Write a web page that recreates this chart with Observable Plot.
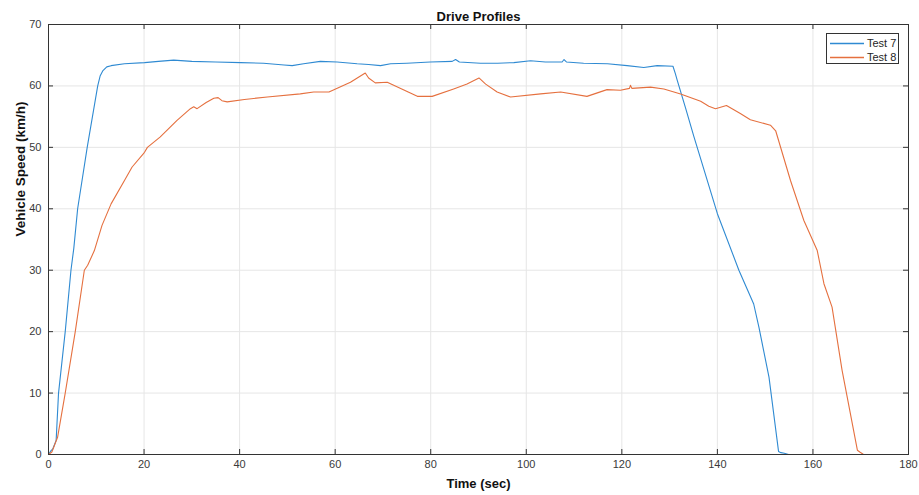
<!DOCTYPE html>
<html>
<head>
<meta charset="utf-8">
<script src="https://cdn.jsdelivr.net/npm/d3@7"></script>
<script src="https://cdn.jsdelivr.net/npm/@observablehq/plot@0.6"></script>
<style>
  html, body { margin: 0; padding: 0; background: #fff; }
  #wrap { position: relative; width: 919px; height: 495px; font-family: "Liberation Sans", Arial, sans-serif; }
  #legend { position: absolute; left: 826px; top: 33px; width: 73px; height: 31px; border: 1px solid #333; background: #fff; font-size: 11px; color: #262626; box-sizing: border-box; }
  .row { position: absolute; left: 0; height: 14px; width: 72px; }
  .row svg { position: absolute; left: 2px; top: 0; }
  .row .lb { position: absolute; left: 40px; top: 0; line-height: 14px; }
</style>
</head>
<body>
<div id="wrap"></div>
<script>
// ---- data ----
const seriesNames = ["Test 7", "Test 8"];
const seriesColors = ["#2f8ad2", "#e5703f"];

const t7 = [0, 0.4, 0.9, 1.6, 2.1, 3.5, 4.7, 5.3, 6.1, 8.1, 10.3, 10.8, 11.4, 12.2, 13.1, 15.9, 20.1, 23, 26.2, 30, 35, 40.2, 45, 49.3, 51, 53.4, 56.9, 60.4, 64.6, 67, 69.5, 71.6, 75, 79.9, 84.5, 85.2, 86, 90.4, 94, 97.4, 100.9, 104, 107.5, 107.9, 108.4, 112, 117, 121.1, 124.6, 127.4, 130.7, 131.2, 131.6, 133.3, 135.1, 140, 144.5, 147.6, 148.7, 150.8, 152.8, 153.3, 154, 154.9];
const v7 = [0, 0.5, 0.9, 2.3, 10, 20, 30, 33.6, 40, 50, 60, 61.6, 62.5, 63.1, 63.3, 63.6, 63.8, 64.0, 64.2, 64.0, 63.9, 63.8, 63.7, 63.4, 63.3, 63.6, 64.0, 63.9, 63.6, 63.5, 63.3, 63.6, 63.7, 63.9, 64.0, 64.3, 63.9, 63.7, 63.7, 63.8, 64.1, 63.9, 63.9, 64.3, 63.9, 63.7, 63.6, 63.3, 63.0, 63.3, 63.2, 62.0, 60.9, 56.5, 51.7, 39.2, 30.0, 24.5, 20.7, 12.6, 0.5, 0.3, 0.2, 0];

const t8 = [0, 0.7, 1.9, 3.5, 5.6, 7.5, 8.2, 9.6, 11.2, 13.1, 15.9, 17.5, 20.1, 20.7, 23.4, 26.9, 29.7, 30.4, 31.1, 33, 34.6, 35.5, 36.3, 37.4, 41, 45.8, 52.7, 55.5, 58.7, 63.2, 66.3, 67, 68.4, 70.9, 77.2, 80.3, 84.8, 87.6, 90.1, 91.5, 93.9, 96.7, 103.0, 107.2, 112.7, 116.9, 119.7, 121.6, 121.8, 122.1, 126, 128.8, 132.3, 136.5, 138.2, 139.6, 141.9, 144.8, 146.9, 151.1, 152.2, 155.3, 158.1, 160.9, 162.3, 164.0, 166.1, 169.3, 169.8, 170.6];
const v8 = [0, 0.4, 2.8, 10, 20, 30, 30.8, 33.2, 37.3, 40.8, 44.6, 46.8, 49.2, 50.0, 51.7, 54.4, 56.3, 56.6, 56.3, 57.3, 58.0, 58.1, 57.6, 57.4, 57.8, 58.2, 58.7, 59.0, 59.0, 60.6, 62.1, 61.3, 60.5, 60.6, 58.3, 58.3, 59.5, 60.3, 61.3, 60.3, 59.0, 58.2, 58.7, 59.0, 58.3, 59.4, 59.3, 59.6, 60.1, 59.6, 59.8, 59.5, 58.7, 57.5, 56.7, 56.3, 56.8, 55.5, 54.5, 53.6, 52.7, 44.6, 38.1, 33.2, 27.8, 24.0, 13.7, 0.7, 0.4, 0];

const xTicks = [0, 20, 40, 60, 80, 100, 120, 140, 160, 180];
const yTicks = [0, 10, 20, 30, 40, 50, 60, 70];

const titleText = "Drive Profiles";
const xLabel = "Time (sec)";
const yLabel = "Vehicle Speed (km/h)";

// ---- build ----
const test7 = t7.map((t, i) => ({t, v: v7[i]}));
const test8 = t8.map((t, i) => ({t, v: v8[i]}));

const W = 919, H = 495, mL = 48, mR = 11, mT = 24, mB = 41;
const plotW = W - mL - mR, plotH = H - mT - mB;
const axisColor = "#333333";
const gridColor = "#e6e6e6";

const chart = Plot.plot({
  width: W, height: H,
  marginLeft: mL, marginRight: mR, marginTop: mT, marginBottom: mB,
  style: {fontFamily: "'Liberation Sans', Arial, sans-serif", fontSize: "11px", color: axisColor, background: "#fff", overflow: "visible"},
  x: {domain: [0, 180]},
  y: {domain: [0, 70]},
  marks: [
    Plot.gridX(xTicks, {stroke: gridColor, strokeOpacity: 1, strokeWidth: 1}),
    Plot.gridY(yTicks, {stroke: gridColor, strokeOpacity: 1, strokeWidth: 1}),
    Plot.line(test7, {x: "t", y: "v", stroke: seriesColors[0], strokeWidth: 1.1}),
    Plot.line(test8, {x: "t", y: "v", stroke: seriesColors[1], strokeWidth: 1.1}),
    Plot.frame({stroke: axisColor, strokeWidth: 1}),
    Plot.ruleX(xTicks, {stroke: axisColor, insetTop: plotH - 5}),
    Plot.ruleX(xTicks, {stroke: axisColor, insetBottom: plotH - 5}),
    Plot.ruleY(yTicks, {stroke: axisColor, insetRight: plotW - 5}),
    Plot.ruleY(yTicks, {stroke: axisColor, insetLeft: plotW - 5}),
    Plot.axisX(xTicks, {tickSize: 0, tickPadding: 6, label: null, fill: "#3a3a3a"}),
    Plot.axisY(yTicks, {tickSize: 0, tickPadding: 7, label: null, fill: "#3a3a3a"}),
    Plot.text([titleText], {frameAnchor: "top", lineAnchor: "middle", dy: -8, fontWeight: "bold", fontSize: 13, fill: "#111"}),
    Plot.text([xLabel], {frameAnchor: "bottom", lineAnchor: "middle", dy: 29, fontWeight: "bold", fontSize: 13, fill: "#111"}),
    Plot.text([yLabel], {frameAnchor: "left", lineAnchor: "middle", dx: -28, dy: -3, rotate: -90, fontWeight: "bold", fontSize: 13.5, fill: "#111"})
  ]
});

const wrap = document.getElementById("wrap");
wrap.appendChild(chart);

// legend (overlaid inside the axes, upper right)
const legend = document.createElement("div");
legend.id = "legend";
seriesNames.forEach((name, i) => {
  const row = document.createElement("div");
  row.className = "row";
  row.style.top = (2 + i * 14) + "px";
  const svgNS = "http://www.w3.org/2000/svg";
  const sw = document.createElementNS(svgNS, "svg");
  sw.setAttribute("width", "36");
  sw.setAttribute("height", "14");
  const ln = document.createElementNS(svgNS, "line");
  ln.setAttribute("x1", "1"); ln.setAttribute("x2", "35");
  ln.setAttribute("y1", "7.5"); ln.setAttribute("y2", "7.5");
  ln.setAttribute("stroke", seriesColors[i]);
  ln.setAttribute("stroke-width", "1.3");
  sw.appendChild(ln);
  const lb = document.createElement("div");
  lb.className = "lb";
  lb.textContent = name;
  row.appendChild(sw);
  row.appendChild(lb);
  legend.appendChild(row);
});
wrap.appendChild(legend);
</script>
</body>
</html>
